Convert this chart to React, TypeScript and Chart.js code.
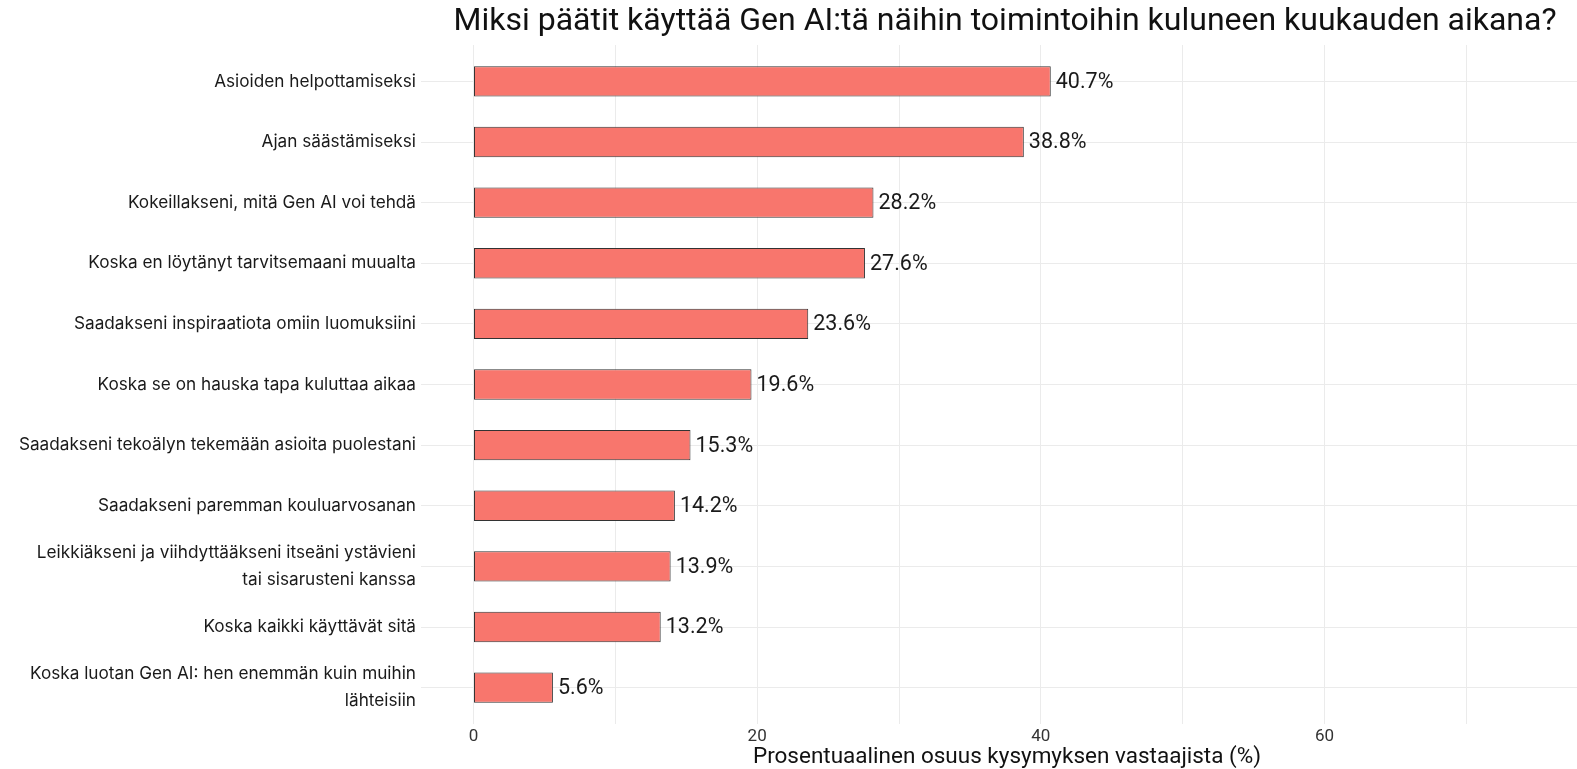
import React, { useEffect, useRef } from "react";
import { Chart, registerables } from "chart.js";

Chart.register(...registerables);

const TITLE = "Miksi päätit käyttää Gen AI:tä näihin toimintoihin kuluneen kuukauden aikana?";
const X_TITLE = "Prosentuaalinen osuus kysymyksen vastaajista (%)";

const categories: (string | string[])[] = [
  "Asioiden helpottamiseksi",
  "Ajan säästämiseksi",
  "Kokeillakseni, mitä Gen AI voi tehdä",
  "Koska en löytänyt tarvitsemaani muualta",
  "Saadakseni inspiraatiota omiin luomuksiini",
  "Koska se on hauska tapa kuluttaa aikaa",
  "Saadakseni tekoälyn tekemään asioita puolestani",
  "Saadakseni paremman kouluarvosanan",
  ["Leikkiäkseni ja viihdyttääkseni itseäni ystävieni", "tai sisarusteni kanssa"],
  "Koska kaikki käyttävät sitä",
  ["Koska luotan Gen AI: hen enemmän kuin muihin", "lähteisiin"],
];

const values: number[] = [40.7, 38.8, 28.2, 27.6, 23.6, 19.6, 15.3, 14.2, 13.9, 13.2, 5.6];

const X_MIN = -3.7;
const X_MAX = 77.8;
const X_LABELED_TICKS = [0, 20, 40, 60];

const valueLabelPlugin = {
  id: "valueLabels",
  afterDatasetsDraw(chart: any) {
    const ctx = chart.ctx;
    const meta = chart.getDatasetMeta(0);
    ctx.save();
    ctx.font = "21.5px Roboto";
    ctx.fillStyle = "#1a1a1a";
    ctx.textAlign = "left";
    ctx.textBaseline = "middle";
    meta.data.forEach((el: any, i: number) => {
      ctx.fillText(values[i].toFixed(1) + "%", el.x + 5, el.y + 1);
    });
    ctx.restore();
  },
};

const titlesPlugin = {
  id: "titles",
  afterDraw(chart: any) {
    const ctx = chart.ctx;
    const area = chart.chartArea;
    const cx = (area.left + area.right) / 2;
    ctx.save();
    ctx.fillStyle = "#111111";
    ctx.textAlign = "center";
    ctx.textBaseline = "middle";
    ctx.font = "32px Roboto";
    ctx.fillText(TITLE, cx + 6, 22);
    ctx.font = "22.5px Roboto";
    ctx.fillText(X_TITLE, cx + 8, chart.height - 12);
    ctx.restore();
  },
};

export default function App() {
  const canvasRef = useRef<HTMLCanvasElement | null>(null);

  useEffect(() => {
    if (!canvasRef.current) return;
    const chart = new Chart(canvasRef.current, {
      type: "bar",
      data: {
        datasets: [
          {
            data: values.map((v, i) => ({ x: v, y: i })),
            backgroundColor: "#F8766D",
            borderColor: "#333333",
            borderWidth: 1,
            borderSkipped: false,
            barPercentage: 0.5,
            categoryPercentage: 1,
          },
        ],
      },
      options: {
        indexAxis: "y",
        responsive: false,
        animation: false,
        devicePixelRatio: 1,
        layout: { padding: { top: 45, right: 0, bottom: 0, left: 0 } },
        plugins: {
          legend: { display: false },
          tooltip: { enabled: false },
          title: { display: false },
        },
        scales: {
          x: {
            type: "linear",
            min: X_MIN,
            max: X_MAX,
            offset: false,
            border: { display: false },
            grid: { color: "#EBEBEB", lineWidth: 1, drawTicks: false, offset: false },
            afterFit: (scale: any) => {
              scale.height = 45;
            },
            ticks: {
              stepSize: 10,
              includeBounds: false,
              autoSkip: false,
              maxRotation: 0,
              padding: 4.5,
              color: "#333333",
              font: { family: "Roboto", size: 17, lineHeight: 1.0 },
              callback: (v: any) => (X_LABELED_TICKS.includes(Number(v)) ? String(v) : ""),
            },
            title: { display: false },
          },
          y: {
            type: "linear",
            min: -0.6,
            max: categories.length - 1 + 0.6,
            reverse: true,
            offset: false,
            border: { display: false },
            grid: { color: "#EBEBEB", lineWidth: 1, drawTicks: false, offset: false },
            afterFit: (scale: any) => {
              scale.width = 421;
            },
            ticks: {
              stepSize: 1,
              includeBounds: false,
              autoSkip: false,
              padding: 5,
              color: "#1a1a1a",
              font: { family: "Inter", size: 17.2, lineHeight: 1.56 },
              callback: (v: any) => {
                const i = Number(v);
                return Number.isInteger(i) && categories[i] !== undefined ? categories[i] : "";
              },
            },
          },
        },
      },
      plugins: [valueLabelPlugin, titlesPlugin],
    } as any);
    return () => chart.destroy();
  }, []);

  return (
    <div style={{ position: "fixed", left: 0, top: 0, width: 1577, height: 769, background: "#ffffff" }}>
      <canvas ref={canvasRef} width={1577} height={769} style={{ display: "block" }} />
    </div>
  );
}
